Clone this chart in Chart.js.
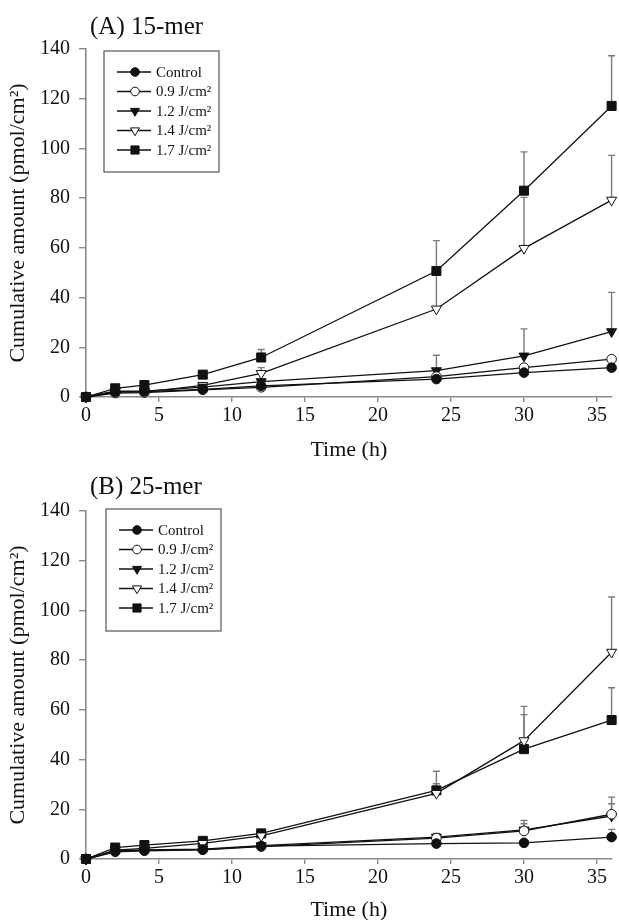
<!DOCTYPE html>
<html>
<head>
<meta charset="utf-8">
<script src="https://cdn.jsdelivr.net/npm/chart.js@4.4.1/dist/chart.umd.min.js"></script>
<style>
  html, body { margin: 0; padding: 0; background: #fff; overflow: hidden; }
  #wrap { position: relative; width: 619px; height: 920px; }
  canvas { position: absolute; left: 0; }
  #chartA { top: 0; }
  #chartB { top: 460px; }
</style>
</head>
<body>
<div id="wrap">
  <canvas id="chartA" width="619" height="463"></canvas>
  <canvas id="chartB" width="619" height="463"></canvas>
</div>
<script>
// sampling times (h)
const timePoints = [0, 2, 4, 8, 12, 24, 30, 36];
const xTicks = [0, 5, 10, 15, 20, 25, 30, 35];
const yTicks = [0, 20, 40, 60, 80, 100, 120, 140];
const seriesNames = ['Control', '0.9 J/cm²', '1.2 J/cm²', '1.4 J/cm²', '1.7 J/cm²'];

// (A) 15-mer, cumulative amount (pmol/cm2)
const ctrlA = [0, 2.0, 2.2, 3.1, 4.5, 7.2, 9.8, 11.8];
const j09A  = [0, 1.6, 1.8, 2.9, 3.9, 8.2, 11.8, 15.2];
const j12A  = [0, 2.4, 2.4, 4.0, 6.2, 10.6, 16.5, 26.3];
const j14A  = [0, 2.3, 2.0, 4.7, 9.5, 35.4, 59.8, 79.2];
const j17A  = [0, 3.5, 4.8, 9.0, 15.9, 50.7, 83.0, 117.1];
// upper error bars (SD)
const ctrlErrA = [0, 0, 0, 0, 0, 0.5, 0.8, 1.0];
const j09ErrA  = [0, 0, 0, 0, 0, 0.8, 1.2, 1.0];
const j12ErrA  = [0, 0, 0, 0, 0.5, 6.2, 10.9, 15.8];
const j14ErrA  = [0, 0, 0, 0, 2.3, 14.0, 20.5, 18.0];
const j17ErrA  = [0, 0, 0, 0, 3.2, 12.2, 15.6, 20.2];

// (B) 25-mer
const ctrlB = [0, 3.1, 3.5, 3.8, 5.2, 6.2, 6.5, 8.8];
const j09B  = [0, 2.9, 3.3, 3.7, 5.0, 8.4, 11.3, 18.0];
const j12B  = [0, 3.4, 3.7, 4.0, 5.4, 8.8, 11.7, 17.3];
const j14B  = [0, 3.6, 4.3, 6.3, 9.3, 26.4, 47.6, 83.2];
const j17B  = [0, 4.6, 5.6, 7.3, 10.3, 27.6, 44.2, 55.9];
const ctrlErrB = [0, 0, 0, 0, 0, 0, 0, 3.1];
const j09ErrB  = [0, 0, 0, 0, 0, 1.8, 4.2, 6.9];
const j12ErrB  = [0, 0, 0, 0, 0, 1.5, 2.5, 4.9];
const j14ErrB  = [0, 0, 0, 0, 0.5, 3.9, 13.8, 22.2];
const j17ErrB  = [0, 0, 0, 0, 1.2, 7.7, 13.9, 13.0];

const serif = 'Liberation Serif, Times New Roman, serif';
const ink = '#111';
const axisGrey = '#8a8a8a';

// marker look per series: control, 0.9, 1.2, 1.4, 1.7
const markers = [
  { style: 'circle',   radius: 4.8, fill: ink,    rot: 0 },
  { style: 'circle',   radius: 4.8, fill: '#fff', rot: 0 },
  { style: 'triangle', radius: 5.8, fill: ink,    rot: 180 },
  { style: 'triangle', radius: 5.8, fill: '#fff', rot: 180 },
  { style: 'rect',     radius: 6.4, fill: ink,    rot: 0 }
];

// vertical upper error bars, drawn behind the markers
const errorBars = {
  id: 'errorBars',
  beforeDatasetsDraw(chart, args, opts) {
    const ctx = chart.ctx;
    const xs = chart.scales.x, ys = chart.scales.y;
    ctx.save();
    ctx.strokeStyle = '#7a7a7a';
    ctx.lineWidth = 1.4;
    chart.data.datasets.forEach((ds, i) => {
      const errs = opts.errors[i];
      ds.data.forEach((p, j) => {
        if (!errs[j]) return;
        const x = xs.getPixelForValue(p.x);
        const y0 = ys.getPixelForValue(p.y);
        const y1 = ys.getPixelForValue(p.y + errs[j]);
        ctx.beginPath();
        ctx.moveTo(x, y0);
        ctx.lineTo(x, y1);
        ctx.moveTo(x - 3.5, y1);
        ctx.lineTo(x + 3.5, y1);
        ctx.stroke();
      });
    });
    ctx.restore();
  }
};

// boxed legend + panel label
const boxLegend = {
  id: 'boxLegend',
  afterDraw(chart, args, opts) {
    const ctx = chart.ctx;
    ctx.save();
    ctx.fillStyle = ink;
    ctx.font = '25px ' + serif;
    ctx.textBaseline = 'alphabetic';
    ctx.fillText(opts.label, 90, 34);

    const b = opts.box;
    ctx.strokeStyle = '#555';
    ctx.lineWidth = 1.2;
    ctx.strokeRect(b.x, b.y, b.w, b.h);
    ctx.font = '15px ' + serif;
    ctx.textBaseline = 'middle';
    chart.data.datasets.forEach((ds, i) => {
      const y = b.y + 21 + i * 19.5;
      ctx.strokeStyle = ink;
      ctx.lineWidth = 1.3;
      ctx.beginPath();
      ctx.moveTo(b.x + 13, y);
      ctx.lineTo(b.x + 47, y);
      ctx.stroke();
      const m = markers[i];
      ctx.fillStyle = m.fill;
      ctx.strokeStyle = ink;
      ctx.lineWidth = 1;
      Chart.helpers.drawPoint(ctx, {
        pointStyle: m.style, radius: m.radius * 0.9, rotation: m.rot, borderWidth: 1
      }, b.x + 31, y);
      ctx.fillStyle = ink;
      ctx.fillText(ds.label, b.x + 52, y + 1);
    });
    ctx.restore();
  }
};

function makePanel(canvasId, label, series, errors, topPad, box) {
  const datasets = series.map((vals, i) => ({
    label: seriesNames[i],
    data: timePoints.map((t, j) => ({ x: t, y: vals[j] })),
    borderColor: ink,
    borderWidth: 1.3,
    pointStyle: markers[i].style,
    pointRadius: markers[i].radius,
    pointRotation: markers[i].rot,
    pointBackgroundColor: markers[i].fill,
    pointBorderColor: ink,
    pointBorderWidth: 1,
    tension: 0,
    clip: false
  }));
  const canvas = document.getElementById(canvasId);
  return new Chart(canvas.getContext('2d'), {
    type: 'line',
    data: { datasets },
    plugins: [errorBars, boxLegend],
    options: {
      responsive: false,
      animation: false,
      devicePixelRatio: 1,
      layout: { padding: { top: topPad, left: 0, right: 6, bottom: 0 } },
      plugins: {
        legend: { display: false },
        tooltip: { enabled: false },
        errorBars: { errors },
        boxLegend: { label, box }
      },
      scales: {
        x: {
          type: 'linear',
          min: 0,
          max: 36,
          afterBuildTicks: s => { s.ticks = xTicks.map(v => ({ value: v })); },
          afterFit: s => { s.height = 463 - topPad - 348; },
          ticks: { color: ink, font: { family: serif, size: 20 }, padding: 2, maxRotation: 0 },
          grid: { drawOnChartArea: false, tickLength: 5, color: axisGrey, lineWidth: 1.4 },
          border: { color: axisGrey, width: 1.6 },
          title: { display: true, text: 'Time (h)', color: ink, font: { family: serif, size: 22 }, padding: { top: 0, bottom: 0 } }
        },
        y: {
          min: 0,
          max: 140,
          afterBuildTicks: s => { s.ticks = yTicks.map(v => ({ value: v })); },
          afterFit: s => { s.width = 86; },
          ticks: { color: ink, font: { family: serif, size: 20 }, padding: 9 },
          grid: { drawOnChartArea: false, tickLength: 7, color: axisGrey, lineWidth: 1.4 },
          border: { color: axisGrey, width: 1.6 },
          title: { display: true, text: 'Cumulative amount (pmol/cm²)', color: ink, font: { family: serif, size: 22 }, padding: { top: 5, bottom: 0 } }
        }
      }
    }
  });
}

makePanel('chartA', '(A) 15-mer',
  [ctrlA, j09A, j12A, j14A, j17A],
  [ctrlErrA, j09ErrA, j12ErrA, j14ErrA, j17ErrA],
  49, { x: 104, y: 51, w: 115, h: 121 });

makePanel('chartB', '(B) 25-mer',
  [ctrlB, j09B, j12B, j14B, j17B],
  [ctrlErrB, j09ErrB, j12ErrB, j14ErrB, j17ErrB],
  51, { x: 106, y: 49, w: 115, h: 122 });
</script>
</body>
</html>
